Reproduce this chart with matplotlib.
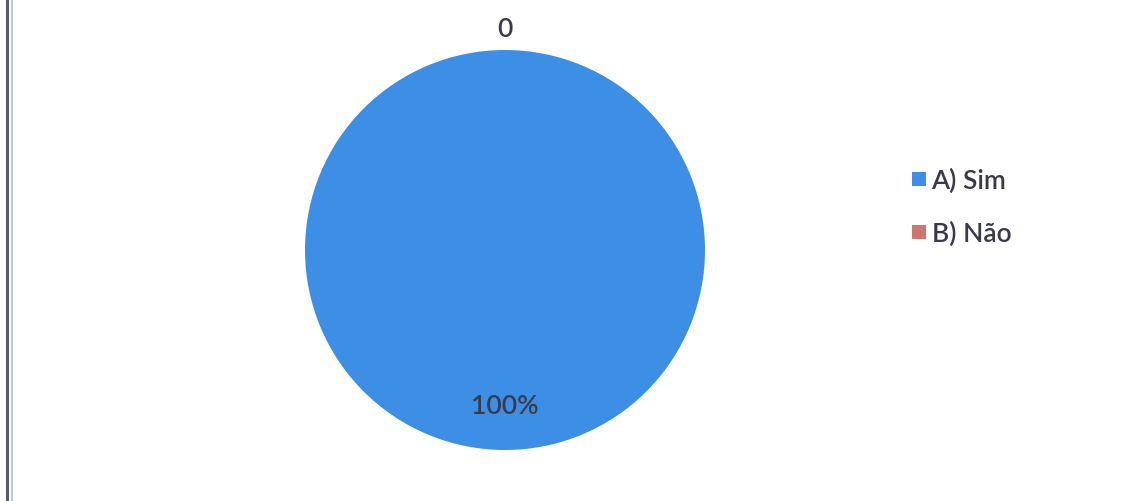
import matplotlib.pyplot as plt
from matplotlib.lines import Line2D
from matplotlib.patches import Patch
import numpy as np

categories = ["A) Sim", "B) Não"]
values = [100, 0]
value_labels = ["100%", "0"]
colors = ["#3d8fe6", "#d0766c"]

TEXT_COLOR = "#3a3a4a"

plt.rcParams["font.family"] = ["Lato", "DejaVu Sans"]

fig = plt.figure(figsize=(11.45, 5.02), dpi=100)
fig.patch.set_facecolor("white")

# pie area: centre near x=505px, y=252px, radius ~199px
ax = fig.add_axes([305 / 1145, 1 - 451 / 502, 400 / 1145, 400 / 502])
wedges, _ = ax.pie(
    values,
    colors=colors,
    startangle=90,
    counterclock=True,
    radius=1.0,
    wedgeprops={"linewidth": 0},
)
ax.set_xlim(-1, 1)
ax.set_ylim(-1, 1)
ax.set_aspect("equal")
ax.axis("off")

# value labels: inside for the full slice, outside for the empty one
for wedge, value, label in zip(wedges, values, value_labels):
    mid = np.deg2rad((wedge.theta1 + wedge.theta2) / 2)
    dist = 0.78 if value > 0 else 1.105
    ax.text(
        dist * np.cos(mid),
        dist * np.sin(mid),
        label,
        ha="center",
        va="center",
        fontsize=19,
        fontweight="semibold",
        color=TEXT_COLOR,
        clip_on=False,
    )

handles = [
    Patch(facecolor=c, edgecolor="none", label=cat)
    for c, cat in zip(colors, categories)
]
fig.legend(
    handles=handles,
    loc="center left",
    bbox_to_anchor=(888 / 1145, 1 - 208 / 502),
    frameon=False,
    prop={"size": 19, "weight": "semibold"},
    handlelength=0.55,
    handleheight=0.42,
    handletextpad=0.2,
    labelspacing=1.05,
    labelcolor=TEXT_COLOR,
)

# double frame line along the left edge
fig.add_artist(Line2D([7 / 1145, 7 / 1145], [0, 1], color="#5a5a6a", lw=2.2))
fig.add_artist(Line2D([12 / 1145, 12 / 1145], [0, 1], color="#a9c0c8", lw=1.2))

fig.savefig("out.png", dpi=100, facecolor="white")
